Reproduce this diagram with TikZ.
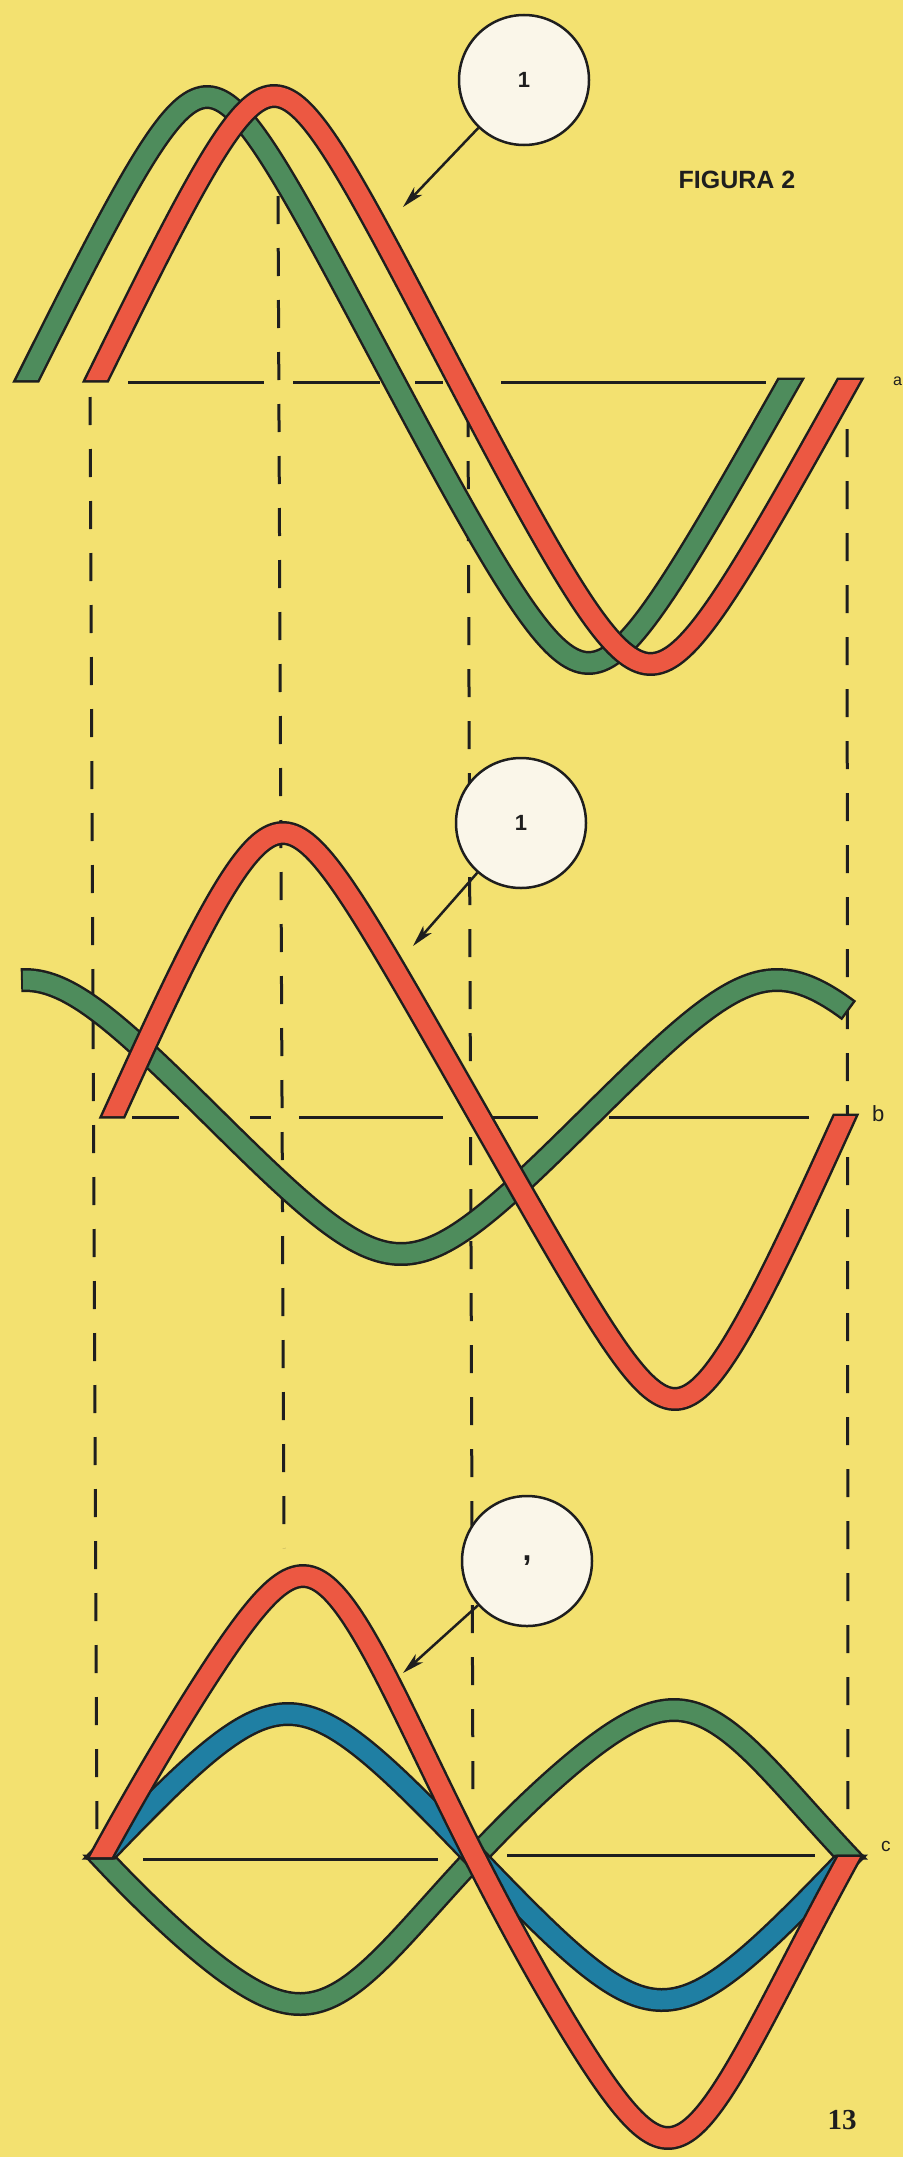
\documentclass[tikz,border=0pt]{standalone}
\usepackage{fontspec}
\setmainfont{Liberation Sans}
\newfontfamily\pagefont{Liberation Serif}
\usetikzlibrary{arrows.meta}
\definecolor{paper}{HTML}{F3E170}
\definecolor{gr}{HTML}{4E8C5C}
\definecolor{rd}{HTML}{EC5842}
\definecolor{bl}{HTML}{1F7FA3}
\definecolor{ink}{HTML}{1E1E1E}
\definecolor{discfill}{HTML}{FAF6E9}
\tikzset{
 declare function={tw(\t)=asin(0.9*sin(\t))/64.158;
                   tws(\t)=asin(0.8*sin(\t))/53.130;},
 bandblack/.style={line width=24pt, draw=ink, line cap=butt, line join=round},
 bandcolor/.style={line width=19pt, draw=#1, line cap=butt, line join=round},
 vdash/.style={draw=ink, line width=3pt, dash pattern=on 28pt off 24pt},
 hbase/.style={draw=ink, line width=3pt},
 disc/.style={circle, draw=ink, line width=2.5pt, fill=discfill, minimum size=130pt, inner sep=0pt, text=ink, font=\bfseries\fontsize{22}{22}\selectfont},
 arr/.style={draw=ink, line width=2.5pt, -{Stealth[length=22pt,width=11pt,inset=6pt]}},
 lab/.style={text=ink, inner sep=0pt, anchor=west},
}
% band that starts upward from the baseline (left) and ends coming from below (right)
\newcommand\bandUD[5]{%
  \pgfmathsetmacro\bandyA{#4+2.5}%
  \pgfmathsetmacro\bandyB{#4-2.5}%
  \begin{scope}
    \clip (#2,-100) rectangle (#3,2300) (-100,-100) rectangle (#2,\bandyA) (#3,\bandyB) rectangle (1100,2300);
    \draw[bandblack] #5;
  \end{scope}
  \begin{scope}
    \clip (#2,-100) rectangle (#3,2300) (-100,-100) rectangle (#2,#4) (#3,#4) rectangle (1100,2300);
    \draw[bandcolor=#1] #5;
  \end{scope}}
% band that starts downward from the baseline (left) and ends coming from above (right)
\newcommand\bandDU[5]{%
  \pgfmathsetmacro\bandyA{#4+2.5}%
  \pgfmathsetmacro\bandyB{#4-2.5}%
  \begin{scope}
    \clip (#2,-100) rectangle (#3,2300) (-100,\bandyB) rectangle (#2,2300) (#3,-100) rectangle (1100,\bandyA);
    \draw[bandblack] #5;
  \end{scope}
  \begin{scope}
    \clip (#2,-100) rectangle (#3,2300) (-100,#4) rectangle (#2,2300) (#3,-100) rectangle (1100,#4);
    \draw[bandcolor=#1] #5;
  \end{scope}}
\begin{document}
\begin{tikzpicture}[x=1pt,y=-1pt]
\useasboundingbox (0,0) rectangle (903,2157);
\fill[paper] (0,0) rectangle (903,2157);

% vertical dashed guide lines
\coordinate (v1s) at (90,397);  \coordinate (v1e) at (97,1850);
\coordinate (v2s) at (278,196); \coordinate (v2e) at (284,1548);
\coordinate (v3s) at (468,409); \coordinate (v3e) at (473,1807);
\coordinate (v4s) at (847,429); \coordinate (v4e) at (848,1830);
\draw[vdash] (v1s) -- (v1e);
\draw[vdash] (v2s) -- (v2e);
\draw[vdash] (v3s) -- (v3e);
\draw[vdash] (v4s) -- (v4e);

% baselines
\draw[hbase] (128,382) -- (264,382);
\draw[hbase] (293,382) -- (380,382);
\draw[hbase] (415,382) -- (443,382);
\draw[hbase] (501,382) -- (766,382);

\draw[hbase] (132,1117) -- (179,1117);
\draw[hbase] (250,1117) -- (271,1117);
\draw[hbase] (299,1117) -- (443,1117);
\draw[hbase] (492,1117) -- (538,1117);
\draw[hbase] (609,1117) -- (809,1117);

\draw[hbase] (143,1859) -- (438,1859);
\draw[hbase] (507,1855) -- (815,1855);

% panel a
\bandUD{gr}{67}{750}{380}{plot[domain=-6:366,samples=240,variable=\t] ({27+\t/360*763-15*sin(\t/2)},{380-283*tw(\t)})}
\bandUD{rd}{136}{810}{380}{plot[domain=-6:366,samples=240,variable=\t] ({96.5+\t/360*753-15*sin(\t/2)},{380-284*tw(\t)})}

% panel b
\draw[bandblack] plot[domain=21:849,samples=220] (\x,{1117-137*tws((\x-25)/752*360+90)});
\draw[bandcolor=gr] plot[domain=23:847,samples=220] (\x,{1117-137*tws((\x-25)/752*360+90)});
\bandUD{rd}{153}{805}{1116}{plot[domain=-6:366,samples=240,variable=\t] ({113+\t/360*732-13*sin(\t)},{1116-283*tw(\t)})}

% panel c
\bandDU{gr}{141}{809}{1857}{plot[domain=-6:366,samples=240,variable=\t] ({101+\t/360*748+12*sin(\t)*sin(\t)},{1857+147*tws(\t)})}
\bandUD{bl}{141}{809}{1857}{plot[domain=-6:366,samples=240,variable=\t] ({101+\t/360*748},{1857-143*tws(\t)})}
\bandUD{rd}{141}{809}{1857}{plot[domain=-6:366,samples=240,variable=\t] ({101+\t/360*748+4.5*sin(\t)+10.5*sin(\t)*sin(\t)},{1857-281*tw(\t)})}

% callout discs and arrows
\node[disc] (ca) at (524,80) {1};
\coordinate (ta) at (403,207);
\draw[arr] (ca) -- (ta);
\node[disc] (cb) at (521,823) {1};
\coordinate (tb) at (413,946);
\draw[arr] (cb) -- (tb);
\node[disc, font=\bfseries\fontsize{32}{32}\selectfont] (cc) at (527,1561) {,};
\coordinate (tc) at (403,1673);
\draw[arr] (cc) -- (tc);

% texts
\node[text=ink, font=\bfseries\fontsize{25}{25}\selectfont] (fig) at (737,180) {FIGURA 2};
\node[lab, font=\fontsize{16}{16}\selectfont] (la) at (893,381) {a};
\node[lab, font=\fontsize{22}{22}\selectfont] (lb) at (872,1114) {b};
\node[lab, font=\fontsize{19}{19}\selectfont] (lc) at (881,1846) {c};
\node[text=ink, font=\pagefont\bfseries\fontsize{29}{29}\selectfont] (pg) at (842,2120) {13};
\end{tikzpicture}
\end{document}
